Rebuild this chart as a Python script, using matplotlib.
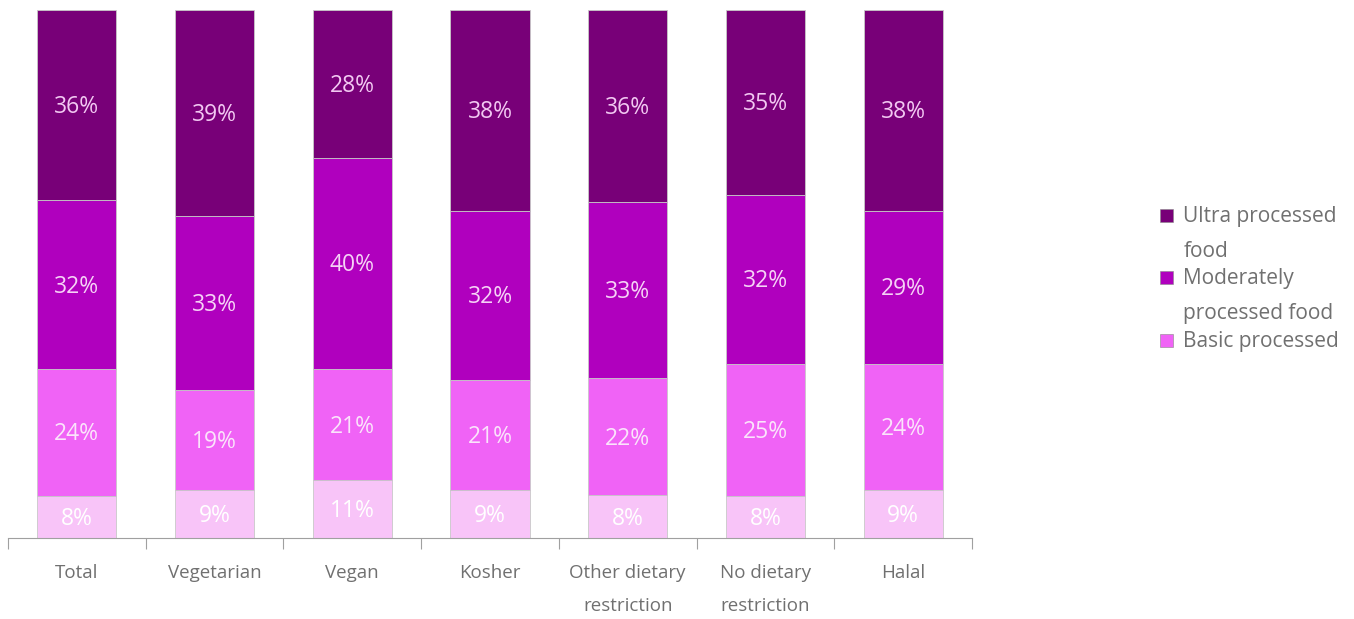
import matplotlib.pyplot as plt
import numpy as np
from matplotlib.patches import Rectangle

plt.rcParams['font.family'] = ['Open Sans', 'DejaVu Sans']

categories = ['Total', 'Vegetarian', 'Vegan', 'Kosher',
              'Other dietary\nrestriction', 'No dietary\nrestriction', 'Halal']
unprocessed = [8, 9, 11, 9, 8, 8, 9]
basic = [24, 19, 21, 21, 22, 25, 24]
moderate = [32, 33, 40, 32, 33, 32, 29]
ultra = [36, 39, 28, 38, 36, 35, 38]

series = [unprocessed, basic, moderate, ultra]
colors = ['#f8c4f8', '#f063f6', '#b000be', '#780078']
text_colors = ['#ffffff', '#fbe4fb', '#f6d2f6', '#f2c8f2']
legend_names = ['Ultra processed\nfood', 'Moderately\nprocessed food', 'Basic processed']

fig = plt.figure(figsize=(13.54, 6.19), dpi=100)
ax = fig.add_axes([0.0059, 0.131, 0.712, 0.853])

x = np.arange(len(categories))
# 100% stacked: each column is scaled to its own total
totals = np.sum(np.array(series, dtype=float), axis=0)
bottom = np.zeros(len(categories))
for vals, col, tcol in zip(series, colors, text_colors):
    vals = np.array(vals, dtype=float)
    share = vals / totals * 100
    ax.bar(x, share, width=0.575, bottom=bottom, color=col,
           edgecolor='#c8c8c8', linewidth=0.6)
    for xi, b, s, v in zip(x, bottom, share, vals):
        ax.text(xi, b + s / 2 - 0.4, f'{int(v)}%', ha='center', va='center',
                color=tcol, fontsize=16.5)
    bottom += share

ax.set_xlim(-0.5, len(categories) - 0.5)
ax.set_ylim(0, 100)
for s in ['top', 'right', 'left']:
    ax.spines[s].set_visible(False)
ax.spines['bottom'].set_color('#a0a0a0')
ax.set_yticks([])

# boundary ticks between categories, labels at the centres
ax.set_xticks(np.arange(-0.5, len(categories)), labels=[])
ax.tick_params(axis='x', which='major', length=8, color='#a0a0a0', direction='out')
ax.set_xticks(x, labels=categories, minor=True)
ax.tick_params(axis='x', which='minor', length=0, pad=19, labelsize=13.5,
               labelcolor='#707070')
for lbl in ax.get_xticklabels(minor=True):
    lbl.set_verticalalignment('top')
    lbl.set_linespacing(2.05)

# legend drawn by hand so the swatch sits on the first line
legend_y = [0.652, 0.551, 0.449]
for name, col, ly in zip(legend_names, colors[::-1], legend_y):
    fig.patches.append(Rectangle((0.8567, ly - 0.01), 0.0096, 0.021,
                                 transform=fig.transFigure, facecolor=col,
                                 edgecolor='#888888', linewidth=0.4))
    fig.text(0.874, ly + 0.016, name, ha='left', va='top', fontsize=15,
             color='#707070', linespacing=1.9)

fig.savefig('out.png', dpi=100)
